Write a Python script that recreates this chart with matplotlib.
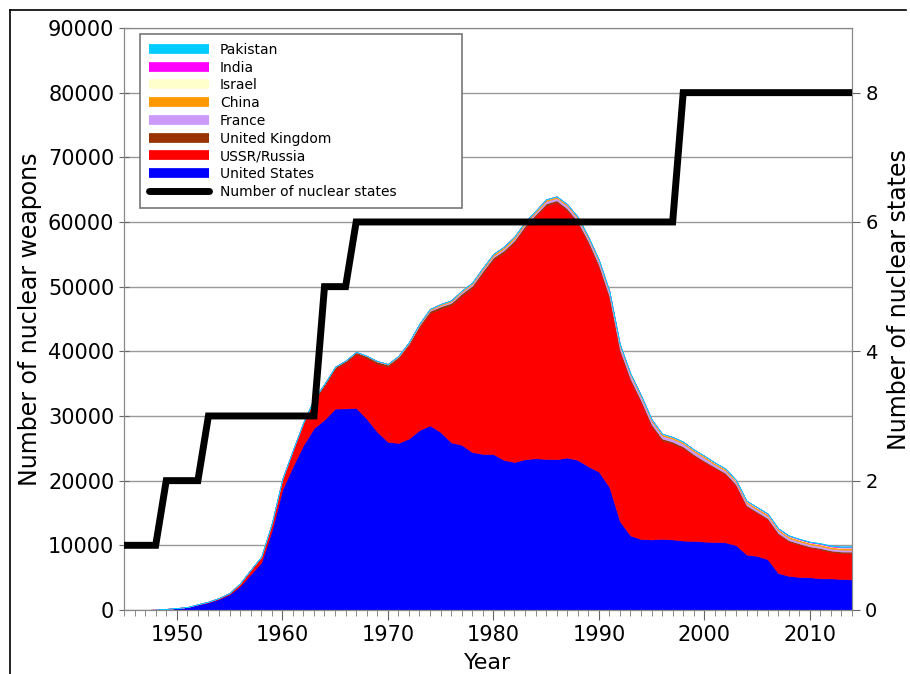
import matplotlib
matplotlib.use("Agg")
import matplotlib.pyplot as plt
from matplotlib.lines import Line2D
import numpy as np

years = list(range(1945, 2015))

us = [2, 9, 13, 50, 170, 299, 438, 841, 1169, 1703,
      2422, 3692, 5543, 7345, 12298, 18638, 22229, 25540, 28133, 29463,
      31139, 31175, 31255, 29561, 27552, 26008, 25830, 26516, 27835, 28537,
      27519, 25914, 25542, 24418, 24138, 24104, 23208, 22886, 23305, 23459,
      23368, 23317, 23575, 23205, 22217, 21392, 19008, 13708, 11511, 10979,
      10904, 11011, 10903, 10732, 10685, 10577, 10526, 10457, 10027, 8570,
      8360, 7853, 5709, 5273, 5113, 5066, 4897, 4881, 4804, 4717]

ussr = [0, 0, 0, 0, 1, 5, 25, 50, 120, 150,
        200, 426, 660, 869, 1060, 1605, 2471, 3322, 4238, 5221,
        6129, 7089, 8339, 9399, 10538, 11643, 13092, 14478, 15915, 17385,
        19055, 21205, 23044, 25393, 27935, 30062, 32049, 33952, 35804, 37431,
        39197, 39730, 38200, 36600, 34530, 31700, 29190, 26240, 23940, 21170,
        17500, 15200, 14850, 14270, 13200, 12300, 11400, 10540, 9200, 7430,
        6640, 6150, 6000, 5330, 4990, 4580, 4450, 4090, 4000, 4080]

uk = [0, 0, 0, 0, 0, 0, 0, 0, 1, 5,
      10, 15, 20, 22, 25, 30, 50, 205, 280, 310,
      310, 270, 270, 280, 308, 280, 220, 220, 275, 325,
      350, 350, 350, 350, 350, 350, 350, 335, 320, 270,
      300, 300, 300, 300, 300, 300, 300, 300, 300, 250,
      300, 300, 260, 260, 185, 185, 185, 185, 185, 185,
      185, 185, 185, 185, 185, 185, 225, 225, 225, 225]

france = [0, 0, 0, 0, 0, 0, 0, 0, 0, 0,
          0, 0, 0, 0, 0, 0, 0, 0, 0, 4,
          32, 36, 36, 36, 36, 36, 45, 70, 116, 145,
          188, 212, 228, 235, 235, 250, 274, 274, 279, 280,
          360, 355, 420, 411, 412, 505, 540, 540, 525, 510,
          500, 450, 450, 450, 450, 470, 350, 350, 350, 350,
          350, 350, 350, 350, 300, 300, 300, 300, 300, 300]

china = [0, 0, 0, 0, 0, 0, 0, 0, 0, 0,
         0, 0, 0, 0, 0, 0, 0, 0, 0, 1,
         5, 20, 25, 35, 50, 75, 100, 130, 150, 170,
         185, 190, 200, 220, 235, 280, 275, 275, 280, 265,
         243, 224, 232, 235, 233, 232, 234, 234, 234, 234,
         234, 234, 232, 232, 232, 232, 235, 235, 235, 235,
         235, 235, 235, 235, 240, 240, 240, 240, 250, 250]

israel = [0, 0, 0, 0, 0, 0, 0, 0, 0, 0,
          0, 0, 0, 0, 0, 0, 0, 0, 0, 0,
          0, 0, 2, 4, 6, 8, 11, 13, 15, 18,
          20, 22, 24, 27, 29, 31, 33, 36, 38, 40,
          42, 44, 47, 49, 51, 53, 55, 57, 59, 61,
          63, 65, 67, 69, 71, 72, 74, 76, 78, 80,
          80, 80, 80, 80, 80, 80, 80, 80, 80, 80]

india = [0] * 53 + [5, 10, 15, 20, 25, 30, 35, 40, 45, 50,
                   55, 60, 65, 70, 80, 90, 100]

pakistan = [0] * 53 + [5, 10, 15, 20, 25, 30, 35, 40, 45, 50,
                       60, 70, 80, 90, 100, 110, 120]

state_years = [1945, 1948, 1949, 1952, 1953, 1963, 1964, 1966, 1967, 1997, 1998, 2014]
num_states = [1, 1, 2, 2, 3, 3, 5, 5, 6, 6, 8, 8]

series_names = ["United States", "USSR/Russia", "United Kingdom", "France",
                "China", "Israel", "India", "Pakistan"]
colors = ["#0000ff", "#ff0000", "#993300", "#cc99ff",
          "#ff9900", "#ffffcc", "#ff00ff", "#00ccff"]

fig = plt.figure(figsize=(9.1, 6.74), dpi=100)
ax = fig.add_axes([0.1363, 0.095, 0.8, 0.8635])
ax.set_axisbelow(True)

polys = ax.stackplot(years, us, ussr, uk, france, china, israel, india, pakistan,
                     colors=colors, linewidth=0.4)
for p, c in zip(polys, colors):
    p.set_edgecolor(c)

ax.set_xlim(1945, 2014)
ax.set_ylim(0, 90000)
ax.set_yticks(np.arange(0, 90001, 10000))
ax.set_xticks(np.arange(1950, 2011, 10))
ax.set_xticks(np.arange(1945, 2015, 1), minor=True)
ax.yaxis.grid(True, color="#999999", linewidth=1.0)
ax.tick_params(axis="both", which="major", labelsize=15, color="#666666")
ax.tick_params(axis="x", which="major", length=7, direction="out")
ax.tick_params(axis="x", which="minor", length=4, direction="out", color="#777777")
ax.tick_params(axis="y", which="major", length=7, direction="inout")
ax.set_ylabel("Number of nuclear weapons", fontsize=17)
ax.set_xlabel("Year", fontsize=16, labelpad=6)
for s in ax.spines.values():
    s.set_color("#888888")

ax2 = ax.twinx()
ax2.set_ylim(0, 9)
ax2.set_yticks([0, 2, 4, 6, 8])
ax2.tick_params(axis="y", labelsize=14, length=6, color="#666666")
ax2.set_ylabel("Number of nuclear states", fontsize=17)
ax2.yaxis.set_label_coords(1.048, 0.533)
ax2.plot(state_years, num_states, color="black", linewidth=5,
         solid_joinstyle="miter", zorder=5)
for s in ax2.spines.values():
    s.set_color("#888888")

handles = []
for name, c in reversed(list(zip(series_names, colors))):
    handles.append(Line2D([], [], color=c, linewidth=7, solid_capstyle="butt"))
handles.append(Line2D([], [], color="black", linewidth=5, solid_capstyle="round"))
labels = list(reversed(series_names)) + ["Number of nuclear states"]
leg = ax2.legend(handles, labels, loc="upper left",
                 bbox_to_anchor=(0.022, 0.5, 0.442, 0.49), mode="expand",
                 fontsize=10, handlelength=4.3, labelspacing=0.27,
                 fancybox=False, edgecolor="#777777", framealpha=1,
                 borderpad=0.65, handletextpad=0.8, borderaxespad=0)
leg.set_zorder(10)
leg.get_frame().set_linewidth(1.2)

# figure frame lines (top and left)
fig.add_artist(Line2D([10 / 910, 906 / 910], [1 - 10 / 674, 1 - 10 / 674],
                      transform=fig.transFigure, color="black", linewidth=1.2))
fig.add_artist(Line2D([10 / 910, 10 / 910], [0, 1 - 10 / 674],
                      transform=fig.transFigure, color="black", linewidth=1.2))

fig.savefig("out.png", dpi=100)
